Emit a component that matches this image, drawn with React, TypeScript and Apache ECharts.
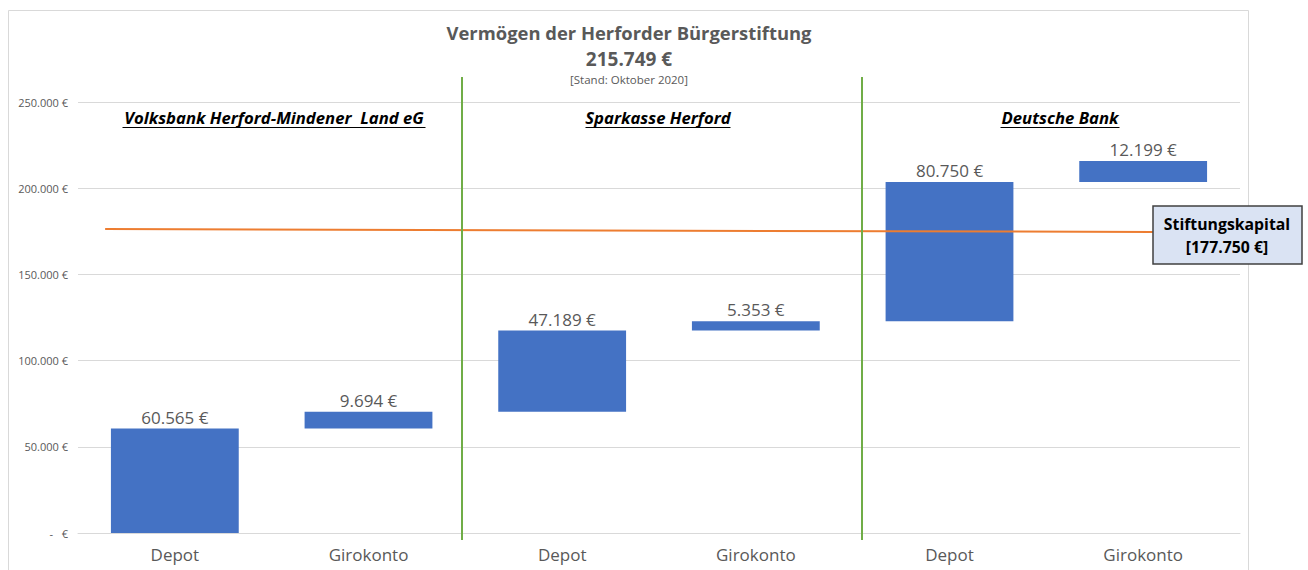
import React, { useEffect, useRef } from "react";
import * as echarts from "echarts";

const categories = ["Depot", "Girokonto", "Depot", "Girokonto", "Depot", "Girokonto"];
const values = [60565, 9694, 47189, 5353, 80750, 12199];
const yTicks = [0, 50000, 100000, 150000, 200000, 250000];
const stiftungskapitalLine: [number, number][] = [[0.14, 176300], [5.55, 174600]];
const banks = ["Volksbank Herford-Mindener  Land eG", "Sparkasse Herford", "Deutsche Bank"];

const FONT = "'Open Sans', sans-serif";
const GREY = "#595959";

const fmt = (v: number) => v.toLocaleString("de-DE") + " €";

export default function App() {
  const ref = useRef<HTMLDivElement>(null);
  useEffect(() => {
    if (!ref.current) return;
    const chart = echarts.init(ref.current, null, { renderer: "svg" });
    const bases: number[] = [];
    let acc = 0;
    values.forEach((v) => {
      bases.push(acc);
      acc += v;
    });
    const total = acc;

    const bankLabels = [
      { text: banks[0], cx: 274, w: 303 },
      { text: banks[1], cx: 658, w: 145 },
      { text: banks[2], cx: 1060, w: 119 },
    ];

    chart.setOption({
      animation: false,
      grid: { left: 78, right: 68, top: 102, bottom: 37 },
      xAxis: [
        {
          type: "category",
          data: categories,
          axisLine: { lineStyle: { color: "#D9D9D9" } },
          axisTick: { show: false },
          axisLabel: { color: GREY, fontSize: 17, fontFamily: FONT, margin: 13 },
        },
        { type: "value", min: 0, max: 6, show: false },
      ],
      yAxis: {
        type: "value",
        min: 0,
        max: 250000,
        interval: 50000,
        axisLine: { show: false },
        axisTick: { show: false },
        splitLine: { lineStyle: { color: "#D9D9D9" } },
        axisLabel: {
          color: GREY,
          fontSize: 11,
          fontFamily: FONT,
          margin: 10,
          formatter: (v: number) => (v === 0 ? "-   €" : fmt(v)),
          customValues: yTicks,
        },
      },
      series: [
        {
          type: "bar",
          stack: "w",
          data: bases,
          itemStyle: { color: "transparent" },
          barWidth: "66%",
          silent: true,
        },
        {
          type: "bar",
          stack: "w",
          data: values,
          barWidth: "66%",
          itemStyle: { color: "#4472C4" },
          label: {
            show: true,
            position: "top",
            distance: 3,
            color: GREY,
            fontSize: 17,
            fontFamily: FONT,
            formatter: (p: any) => fmt(p.value),
          },
        },
        {
          type: "line",
          xAxisIndex: 1,
          data: stiftungskapitalLine,
          symbol: "none",
          lineStyle: { color: "#ED7D31", width: 2 },
          z: 5,
        },
      ],
      graphic: [
        {
          type: "rect",
          shape: { x: 8.5, y: 10.5, width: 1240, height: 580 },
          style: { fill: "none", stroke: "#D9D9D9", lineWidth: 1 },
          silent: true,
        },
        {
          type: "text",
          x: 629,
          y: 32,
          style: {
            text: "Vermögen der Herforder Bürgerstiftung",
            fill: GREY,
            font: `bold 18.4px ${FONT}`,
            align: "center",
            verticalAlign: "middle",
          },
        },
        {
          type: "text",
          x: 629,
          y: 59,
          style: {
            text: fmt(total - 1),
            fill: GREY,
            font: `bold 19px ${FONT}`,
            align: "center",
            verticalAlign: "middle",
          },
        },
        {
          type: "text",
          x: 629,
          y: 79,
          style: {
            text: "[Stand: Oktober 2020]",
            fill: GREY,
            font: `11.5px ${FONT}`,
            align: "center",
            verticalAlign: "middle",
          },
        },
        { type: "line", shape: { x1: 462, y1: 77, x2: 462, y2: 540 }, style: { stroke: "#70AD47", lineWidth: 2 }, z: 10 },
        { type: "line", shape: { x1: 862, y1: 77, x2: 862, y2: 540 }, style: { stroke: "#70AD47", lineWidth: 2 }, z: 10 },
        ...bankLabels.flatMap((b) => [
          {
            type: "text",
            x: b.cx,
            y: 117,
            style: {
              text: b.text,
              fill: "#000000",
              font: `italic bold 16.7px ${FONT}`,
              align: "center",
              verticalAlign: "middle",
            },
          },
          {
            type: "line",
            shape: { x1: b.cx - b.w / 2, y1: 127.5, x2: b.cx + b.w / 2, y2: 127.5 },
            style: { stroke: "#000000", lineWidth: 1 },
          },
        ]),
        {
          type: "rect",
          shape: { x: 1153, y: 206, width: 149, height: 58 },
          style: { fill: "#DAE3F3", stroke: "#404040", lineWidth: 1.5 },
          z: 20,
        },
        {
          type: "text",
          x: 1227,
          y: 235,
          z: 21,
          style: {
            text: "Stiftungskapital\n[177.750 €]",
            fill: "#000000",
            font: `bold 15.8px ${FONT}`,
            lineHeight: 23,
            align: "center",
            verticalAlign: "middle",
          },
        },
      ],
    });
    return () => chart.dispose();
  }, []);
  return (
    <div
      ref={ref}
      style={{ position: "absolute", left: 0, top: 0, width: 1308, height: 570, background: "#fff" }}
    />
  );
}
